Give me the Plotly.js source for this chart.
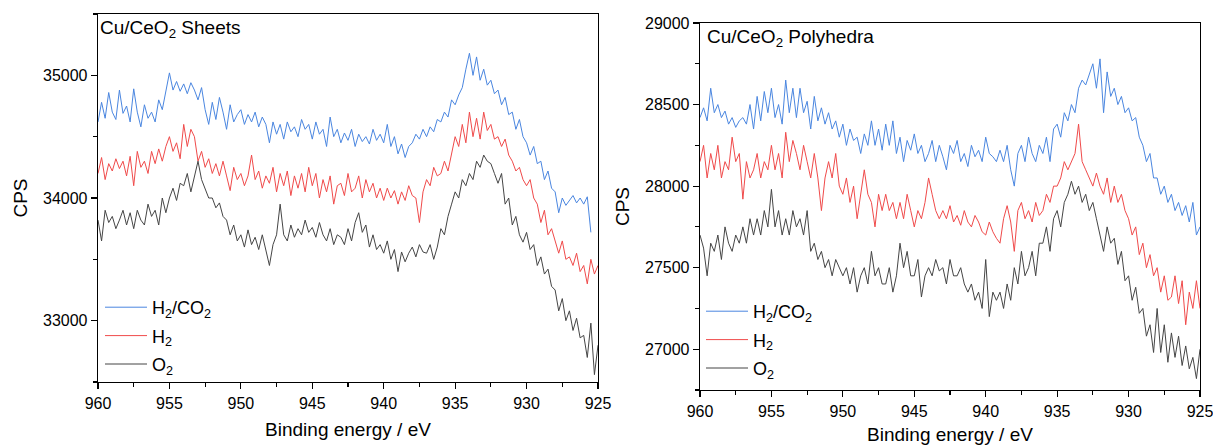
<!DOCTYPE html>
<html><head><meta charset="utf-8">
<script src="https://cdn.plot.ly/plotly-3.0.1.min.js"></script>
<style>html,body{margin:0;padding:0;background:#fff}#c{width:1213px;height:445px}</style>
</head><body><div id="c"></div>
<script>
// Binding energy grid (eV), 960 -> 925 in 0.25 eV steps
const energy = [
960,959.75,959.5,959.25,959,958.75,958.5,958.25,958,957.75,957.5,957.25,957,956.75,956.5,956.25,
956,955.75,955.5,955.25,955,954.75,954.5,954.25,954,953.75,953.5,953.25,953,952.75,952.5,952.25,
952,951.75,951.5,951.25,951,950.75,950.5,950.25,950,949.75,949.5,949.25,949,948.75,948.5,948.25,
948,947.75,947.5,947.25,947,946.75,946.5,946.25,946,945.75,945.5,945.25,945,944.75,944.5,944.25,
944,943.75,943.5,943.25,943,942.75,942.5,942.25,942,941.75,941.5,941.25,941,940.75,940.5,940.25,
940,939.75,939.5,939.25,939,938.75,938.5,938.25,938,937.75,937.5,937.25,937,936.75,936.5,936.25,
936,935.75,935.5,935.25,935,934.75,934.5,934.25,934,933.75,933.5,933.25,933,932.75,932.5,932.25,
932,931.75,931.5,931.25,931,930.75,930.5,930.25,930,929.75,929.5,929.25,929,928.75,928.5,928.25,
928,927.75,927.5,927.25,927,926.75,926.5,926.25,926,925.75,925.5,925.25,925];

// Cu/CeO2 Sheets
const sheets_H2CO2 = [
34620,34780,34650,34860, 34700,34640,34880,34690, 34750,34620,34890,34700, 34580,34760,34650,34700,
34620,34800,34720,34860, 35020,34880,34950,34870, 34930,34850,34940,34880, 34800,34900,34720,34600,
34780,34640,34820,34700, 34560,34760,34620,34680, 34720,34600,34680,34620, 34700,34580,34660,34600,
34450,34620,34520,34600, 34480,34620,34540,34580, 34500,34640,34560,34600, 34480,34620,34520,34560,
34420,34660,34500,34560, 34450,34530,34470,34560, 34420,34520,34460,34500, 34440,34560,34470,34520,
34450,34600,34420,34500, 34360,34440,34330,34420, 34450,34520,34480,34560, 34500,34580,34540,34640,
34620,34700,34660,34800, 34760,34840,34900,35050, 35180,35000,35150,34960, 35050,34920,34960,34850,
34880,34760,34820,34680, 34700,34560,34640,34500, 34450,34350,34420,34280, 34300,34150,34220,34080,
34050,33880,34000,33940, 33980,34020,33960,34000, 33950,34010,33720,null, null];
const sheets_H2 = [
34200,34330,34150,34280, 34220,34320,34240,34300, 34180,34340,34100,34380, 34250,34300,34200,34380,
34280,34400,34300,34420, 34500,34380,34450,34320, 34600,34420,34560,34500, 34300,34380,34250,34320,
34200,34280,34180,34300, 34180,34060,34250,34150, 34200,34100,34180,34350, 34150,34220,34080,34180,
34120,34250,34050,34200, 34100,34220,34020,34180, 34080,34200,34050,34250, 34100,34200,34000,34150,
34050,34180,33950,34100, 34120,34020,34200,34050, 34080,34180,34000,34150, 34050,34120,34000,34080,
33980,34080,34000,34060, 33950,34050,33980,34100, 34020,34000,33800,34050, 34150,34100,34250,34180,
34200,34300,34220,34350, 34500,34420,34600,34450, 34700,34500,34650,34480, 34700,34550,34600,34480,
34500,34420,34480,34350, 34300,34220,34250,34150, 34100,34150,34000,33950, 33800,33900,33700,33750,
33650,33550,33650,33500, 33520,33450,33550,33400, 33450,33300,33500,33380, 33450];
const sheets_O2 = [
33820,33650,33900,33800, 33850,33750,33820,33900, 33780,33880,33750,33900, 33820,33780,33950,33850,
33900,33780,34000,33880, 34000,34080,33980,34120, 34100,34200,34050,34180, 34300,34150,34080,34000,
34000,33920,33960,33850, 33820,33700,33780,33650, 33700,33600,33740,33620, 33680,33580,33700,33560,
33450,33620,33700,33950, 33700,33650,33780,33680, 33750,33700,33820,33720, 33760,33680,33800,33700,
33650,33750,33620,33700, 33680,33620,33750,33650, 33800,33880,33720,33780, 33600,33700,33580,33620,
33550,33650,33500,33580, 33400,33560,33480,33550, 33600,33520,33620,33560, 33550,33620,33500,33600,
33750,33700,33850,33950, 34050,34000,34150,34100, 34200,34150,34300,34250, 34350,34300,34280,34200,
34120,34200,33950,34000, 33780,33850,33700,33640, 33720,33580,33620,33450, 33520,33380,33420,33280,
33250,33080,33180,33000, 33080,32920,33020,32860, 32880,32700,32980,32560, 32800];

// Cu/CeO2 Polyhedra
const poly_H2CO2 = [
28420,28480,28400,28600, 28450,28500,28420,28460, 28380,28420,28360,28400, 28420,28380,28500,28350,
28550,28400,28580,28450, 28600,28420,28500,28380, 28650,28450,28600,28420, 28600,28450,28520,28350,
28550,28400,28480,28380, 28450,28350,28400,28300, 28380,28250,28350,28280, 28300,28200,28320,28250,
28400,28250,28350,28220, 28380,28250,28400,28200, 28300,28150,28280,28220, 28320,28200,28250,28150,
28200,28280,28150,28250, 28180,28100,28250,28200, 28280,28150,28200,28120, 28250,28180,28220,28150,
28300,28200,28180,28150, 28220,28150,28250,28100, 28000,28200,28250,28150, 28300,28200,28150,28250,
28200,28300,28150,28350, 28380,28300,28450,28400, 28500,28450,28600,28650, 28620,28680,28750,28600,
28780,28450,28700,28550, 28600,28500,28550,28450, 28480,28400,28420,28300, 28250,28150,28200,28050,
28050,27950,28000,27900, 27950,27850,27900,27820, 27880,27780,27900,27700, 27750];
const poly_H2 = [
28150,28250,28050,28200, 28100,28250,28050,28150, 28100,28300,28150,28200, 27920,28150,28050,28100,
28200,28050,28150,28100, 28250,28100,28200,28050, 28330,28150,28280,28200, 28100,28250,28150,28050,
28200,28050,27850,28050, 28150,28050,28200,28000, 27950,28050,27900,28000, 27800,27950,28100,27950,
27900,27750,27950,27850, 27950,27850,27900,27800, 27900,27800,27950,27850, 27750,27850,27800,27900,
28050,27950,27850,27800, 27850,27800,27880,27780, 27820,27760,27850,27780, 27750,27820,27780,27720,
27700,27780,27720,27680, 27650,27800,27880,27780, 27600,27850,27900,27800, 27850,27780,27900,27820,
27850,27950,27900,28000, 28000,28050,28150,28100, 28150,28200,28380,28150, 28100,28050,28000,28080,
28000,27950,28050,27900, 28000,27900,27950,27850, 27800,27700,27750,27580, 27650,27500,27580,27450,
27500,27350,27450,27300, 27320,27450,27280,27420, 27150,27350,27250,27420, 27250];
const poly_O2 = [
27700,27620,27450,27650, 27600,27700,27550,27750, 27650,27600,27700,27650, 27750,27650,27800,27700,
27800,27700,27850,27750, 27980,27750,27850,27700, 27800,27700,27850,27750, 27800,27700,27850,27600,
27650,27550,27600,27500, 27550,27450,27550,27500, 27450,27500,27400,27500, 27350,27450,27500,27400,
27600,27450,27500,27400, 27400,27500,27350,27450, 27650,27500,27600,27450, 27450,27550,27320,27450,
27500,27450,27550,27480, 27500,27400,27550,27450, 27450,27500,27400,27350, 27400,27300,27350,27250,
27550,27200,27350,27300, 27350,27250,27400,27300, 27500,27400,27600,27450, 27500,27600,27450,27650,
27650,27750,27600,27800, 27850,27750,27900,27950, 28030,27950,28000,27900, 27950,27850,27900,27800,
27700,27600,27750,27650, 27680,27520,27600,27420, 27450,27300,27380,27220, 27250,27080,27150,26980,
27250,26980,27150,26920, 27100,26950,27080,26900, 27020,26880,26950,26820, 27000];

const seriesNames = ['H<sub>2</sub>/CO<sub>2</sub>', 'H<sub>2</sub>', 'O<sub>2</sub>'];
const panelLabels = ['Cu/CeO<sub>2</sub> Sheets', 'Cu/CeO<sub>2</sub> Polyhedra'];
const xTitle = 'Binding energy / eV';
const yTitle = 'CPS';
const xTicks = [960, 955, 950, 945, 940, 935, 930, 925];
const yTicksSheets = [33000, 34000, 35000];
const yTicksPoly = [27000, 27500, 28000, 28500, 29000];

const colors = ['#4a86e0', '#f04a4a', '#454545'];
const font = 'Arial, "Liberation Sans", sans-serif';

const left = [sheets_H2CO2, sheets_H2, sheets_O2];
const right = [poly_H2CO2, poly_H2, poly_O2];
const traces = [];
left.forEach((y, i) => traces.push({x: energy, y: y, name: seriesNames[i], type: 'scatter', mode: 'lines',
  line: {color: colors[i], width: 1}, xaxis: 'x', yaxis: 'y', legend: 'legend', legendgroup: 'L' + i}));
right.forEach((y, i) => traces.push({x: energy, y: y, name: seriesNames[i], type: 'scatter', mode: 'lines',
  line: {color: colors[i], width: 1}, xaxis: 'x2', yaxis: 'y2', legend: 'legend2', legendgroup: 'R' + i}));

const W = 1213, H = 445;
const px = v => v / W, py = v => 1 - v / H;

const xBase = {range: [960, 925], tickvals: xTicks, ticks: 'outside', ticklen: 6, tickwidth: 1.2,
  tickcolor: '#000', showline: true, linecolor: '#000', linewidth: 1.3, mirror: true, showgrid: false, zeroline: false,
  tickfont: {family: font, size: 16, color: '#000'}, ticklabeloverflow: 'allow',
  minor: {dtick: 2.5, ticks: 'outside', ticklen: 3.5, tickcolor: '#000', tickwidth: 1.2, showgrid: false},
  title: {text: xTitle, font: {family: font, size: 19, color: '#000'}, standoff: 12}, automargin: false};
const yBase = {ticks: 'outside', ticklen: 6, tickwidth: 1.2, tickcolor: '#000', showline: true, linecolor: '#000',
  linewidth: 1.3, mirror: true, showgrid: false, zeroline: false, tickformat: 'd', ticklabeloverflow: 'allow',
  tickfont: {family: font, size: 16, color: '#000'},
  title: {text: yTitle, font: {family: font, size: 19, color: '#000'}, standoff: 10}, automargin: false};

const layout = {
  width: W, height: H, margin: {l: 0, r: 0, t: 0, b: 0}, paper_bgcolor: '#fff', plot_bgcolor: '#fff',
  showlegend: true, font: {family: font, color: '#000'},
  xaxis: Object.assign({}, xBase, {domain: [px(98), px(598)], anchor: 'y'}),
  yaxis: Object.assign({}, yBase, {domain: [1 - 382 / H, 1 - 14 / H], anchor: 'x', range: [32500, 35500],
    tickvals: yTicksSheets, minor: {dtick: 500, ticks: 'outside', ticklen: 3.5, tickcolor: '#000', tickwidth: 1.2, showgrid: false}}),
  xaxis2: Object.assign({}, xBase, {domain: [px(700), px(1200)], anchor: 'y2'}),
  yaxis2: Object.assign({}, yBase, {domain: [1 - 390 / H, 1 - 23 / H], anchor: 'x2', range: [26750, 29000],
    tickvals: yTicksPoly, minor: {dtick: 250, ticks: 'outside', ticklen: 3.5, tickcolor: '#000', tickwidth: 1.2, showgrid: false}}),
  legend: {x: px(100), y: py(289), xanchor: 'left', yanchor: 'top', bgcolor: 'rgba(0,0,0,0)',
    font: {family: font, size: 18, color: '#000'}, itemwidth: 42, tracegroupgap: 2},
  legend2: {x: px(701), y: py(293), xanchor: 'left', yanchor: 'top', bgcolor: 'rgba(0,0,0,0)',
    font: {family: font, size: 18, color: '#000'}, itemwidth: 42, tracegroupgap: 2},
  annotations: [
    {text: panelLabels[0], xref: 'paper', yref: 'paper', x: px(98), y: py(15), xanchor: 'left', yanchor: 'top',
      showarrow: false, font: {family: font, size: 19, color: '#000'}},
    {text: panelLabels[1], xref: 'paper', yref: 'paper', x: px(705), y: py(24), xanchor: 'left', yanchor: 'top',
      showarrow: false, font: {family: font, size: 19, color: '#000'}}
  ]
};

Plotly.newPlot('c', traces, layout, {displayModeBar: false, staticPlot: true});
</script>
</body></html>
